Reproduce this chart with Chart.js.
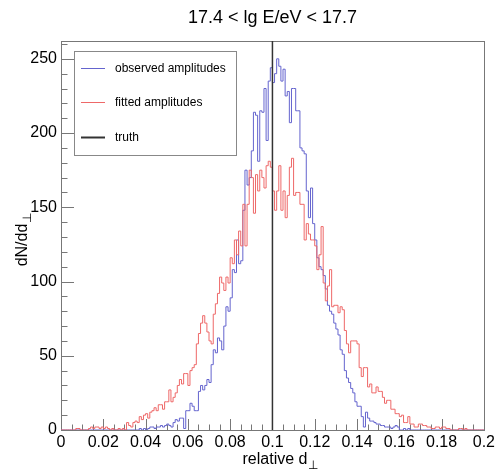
<!DOCTYPE html>
<html><head><meta charset="utf-8">
<script src="https://cdn.jsdelivr.net/npm/chart.js@4/dist/chart.umd.min.js"></script>
<style>html,body{margin:0;padding:0;background:#fff}#wrap{width:498px;height:471px}</style>
</head><body><div id="wrap"><canvas id="c" width="498" height="471"></canvas></div>
<script>
// ---- data (200 bins of width 0.001 from 0 to 0.2) ----
const binLow = 0;
const binWidth = 0.001;
const observed = [
  0,0,0,0,0,0,0,0,0,0, 0,0,0,0,0,0,0,0,0,0,
  0,0,0,0,0,0,0,0,0,0, 0,0,0,0,0,0,0,0,1,0,
  1,0,1,2,2,1,2,2,3,2, 3,4,3,2,5,7,6,8,8,1,
  13,13,18,16,13,13,26,30,27,30, 34,32,44,54,52,62,60,54,70,83,
  80,89,108,106,128,112,114,148,175,165, 170,188,214,212,181,215,214,230,195,235,
  244,234,240,250,245,235,243,225,228,207, 230,230,215,215,190,188,186,161,143,163,
  139,128,116,110,108,104,95,84,80,78, 72,68,64,54,51,40,35,32,28,25,
  19,16,16,9,2,12,8,6,6,5, 4,4,3,3,2,2,2,1,2,3,
  2,0,0,1,0,1,0,0,0,0, 0,0,0,0,0,0,0,0,0,0,
  0,0,0,0,0,0,0,0,0,0, 0,0,0,0,0,0,0,0,0,0
];
const fitted = [
  0,0,0,0,0,0,0,0,1,1, 0,0,0,0,1,2,1,2,2,1,
  2,1,2,1,0,1,0,0,1,0, 1,0,5,3,2,5,6,5,9,7,
  10,11,8,12,13,15,13,17,17,14, 19,19,27,19,22,25,30,34,31,38,
  38,30,40,42,44,58,65,72,77,72, 66,60,58,78,85,92,103,99,94,103,
  99,116,112,128,118,134,124,152,124,152, 175,170,146,172,161,175,170,163,178,181,
  177,161,148,161,178,148,161,143,158,177, 183,158,160,160,152,152,128,139,132,128,
  128,124,108,118,137,99,87,97,108,83, 84,84,79,83,81,67,58,52,60,60,
  60,58,42,36,42,42,29,31,25,25, 29,26,26,22,18,20,20,14,14,11,
  11,9,10,5,5,9,4,4,2,2, 4,4,3,3,2,2,1,1,2,2,
  1,2,2,1,1,0,0,0,0,1, 1,0,1,0,0,0,0,0,0,0
];
const truthValue = 0.1;
const seriesNames = ['observed amplitudes', 'fitted amplitudes', 'truth'];
const xTickLabels = ['0','0.02','0.04','0.06','0.08','0.1','0.12','0.14','0.16','0.18','0.2'];
const yTickLabels = ['0','50','100','150','200','250'];
const titleText = '17.4 < lg E/eV < 17.7';
const xTitle = ['relative d', '\u22A5'];
const yTitle = ['dN/dd', '\u22A5'];

// ---- build step points from bins ----
function toSteps(arr){
  const pts = arr.map((v,i)=>({x: binLow + i*binWidth, y: v}));
  pts.push({x: binLow + arr.length*binWidth, y: arr[arr.length-1]});
  return pts;
}
const FONT = "'Liberation Sans', Arial, Helvetica, sans-serif";
const BLUE = 'rgb(100,100,206)';
const RED = 'rgb(238,104,104)';
const TRUTH = '#333';

const rootStyle = {
  id: 'rootStyle',
  beforeDatasetsDraw(chart){
    const ctx = chart.ctx, a = chart.chartArea;
    const xs = chart.scales.x, ys = chart.scales.y;
    ctx.save();
    ctx.strokeStyle = '#777';
    ctx.lineWidth = 1;
    ctx.beginPath();
    for (let k = 0; k <= 40; k++){
      const px = Math.round(xs.getPixelForValue(k*0.005)) + 0.5;
      const len = (k % 4 === 0) ? 11 : 5.5;
      ctx.moveTo(px, a.bottom); ctx.lineTo(px, a.bottom - len);
    }
    for (let v = 0; v <= 260; v += 10){
      const py = Math.round(ys.getPixelForValue(v)) + 0.5;
      const len = (v % 50 === 0) ? 13 : 6.5;
      ctx.moveTo(a.left, py); ctx.lineTo(a.left + len, py);
    }
    ctx.stroke();
    ctx.strokeRect(Math.round(a.left)+0.5, Math.round(a.top)+0.5, Math.round(a.right-a.left), Math.round(a.bottom-a.top));
    ctx.restore();
  },
  afterDraw(chart){
    const ctx = chart.ctx;
    ctx.save();
    ctx.fillStyle = '#000';
    ctx.font = '16px ' + FONT;
    ctx.textBaseline = 'alphabetic';
    const w1 = ctx.measureText(xTitle[0]).width;
    ctx.font = '12px ' + FONT;
    const w2 = ctx.measureText(xTitle[1]).width;
    let x0 = 280 - (w1 + w2)/2;
    ctx.font = '16px ' + FONT;
    ctx.fillText(xTitle[0], x0, 464);
    ctx.font = '12px ' + FONT;
    ctx.fillText(xTitle[1], x0 + w1 + 0.5, 469);
    ctx.translate(27, 240);
    ctx.rotate(-Math.PI/2);
    ctx.font = '16px ' + FONT;
    const v1 = ctx.measureText(yTitle[0]).width;
    ctx.font = '12px ' + FONT;
    const v2 = ctx.measureText(yTitle[1]).width;
    let y0 = -(v1 + v2)/2;
    ctx.font = '16px ' + FONT;
    ctx.fillText(yTitle[0], y0, 0);
    ctx.font = '12px ' + FONT;
    ctx.fillText(yTitle[1], y0 + v1 + 0.5, 4);
    ctx.setTransform(1,0,0,1,0,0);
    const lx = 74.5, ly = 51.5, lw = 162, lh = 104;
    ctx.fillStyle = '#fff';
    ctx.fillRect(lx, ly, lw, lh);
    ctx.strokeStyle = '#888';
    ctx.lineWidth = 1;
    ctx.strokeRect(lx, ly, lw, lh);
    const rows = [68, 102, 137];
    const ds = chart.data.datasets;
    ctx.font = '12px ' + FONT;
    ctx.textBaseline = 'middle';
    for (let i = 0; i < ds.length; i++){
      ctx.strokeStyle = ds[i].borderColor;
      ctx.lineWidth = i === 2 ? 2 : 1;
      ctx.beginPath();
      ctx.moveTo(81, rows[i] + 0.5); ctx.lineTo(105, rows[i] + 0.5);
      ctx.stroke();
      ctx.fillStyle = '#000';
      ctx.fillText(ds[i].label, 115, rows[i] + 1);
    }
    ctx.restore();
  }
};

new Chart(document.getElementById('c'), {
  type: 'line',
  data: {
    datasets: [
      { label: seriesNames[0], data: toSteps(observed), borderColor: BLUE, borderWidth: 1,
        stepped: 'after', pointRadius: 0, fill: false, order: 2 },
      { label: seriesNames[1], data: toSteps(fitted), borderColor: RED, borderWidth: 1,
        stepped: 'after', pointRadius: 0, fill: false, order: 1 },
      { label: seriesNames[2], data: [{x: truthValue, y: 0}, {x: truthValue, y: 262}],
        borderColor: TRUTH, borderWidth: 1.5, pointRadius: 0, fill: false, order: 0 }
    ]
  },
  options: {
    responsive: false,
    devicePixelRatio: 1,
    animation: false,
    layout: { padding: { left: 0, right: 8, top: 0, bottom: 0 } },
    plugins: {
      legend: { display: false },
      tooltip: { enabled: false },
      title: { display: true, text: titleText, fullSize: false, color: '#000',
        font: { size: 18, family: FONT, weight: 'normal' }, padding: { top: 7, bottom: 12.4 } }
    },
    scales: {
      x: {
        type: 'linear', min: 0, max: 0.2,
        grid: { display: false, drawTicks: false }, border: { display: false },
        ticks: { stepSize: 0.02, includeBounds: false, autoSkip: false, maxRotation: 0,
          padding: 3, color: '#000', font: { size: 16, family: FONT },
          callback: (v) => xTickLabels[Math.round(v / 0.02)] },
        afterFit: (s) => { s.height = 41; }
      },
      y: {
        type: 'linear', min: 0, max: 262,
        grid: { display: false, drawTicks: false }, border: { display: false },
        ticks: { stepSize: 50, includeBounds: false, padding: 4, color: '#000',
          font: { size: 16, family: FONT },
          callback: (v) => yTickLabels[Math.round(v / 50)] },
        afterFit: (s) => { s.width = 61; }
      }
    }
  },
  plugins: [rootStyle]
});
</script>
</body></html>
